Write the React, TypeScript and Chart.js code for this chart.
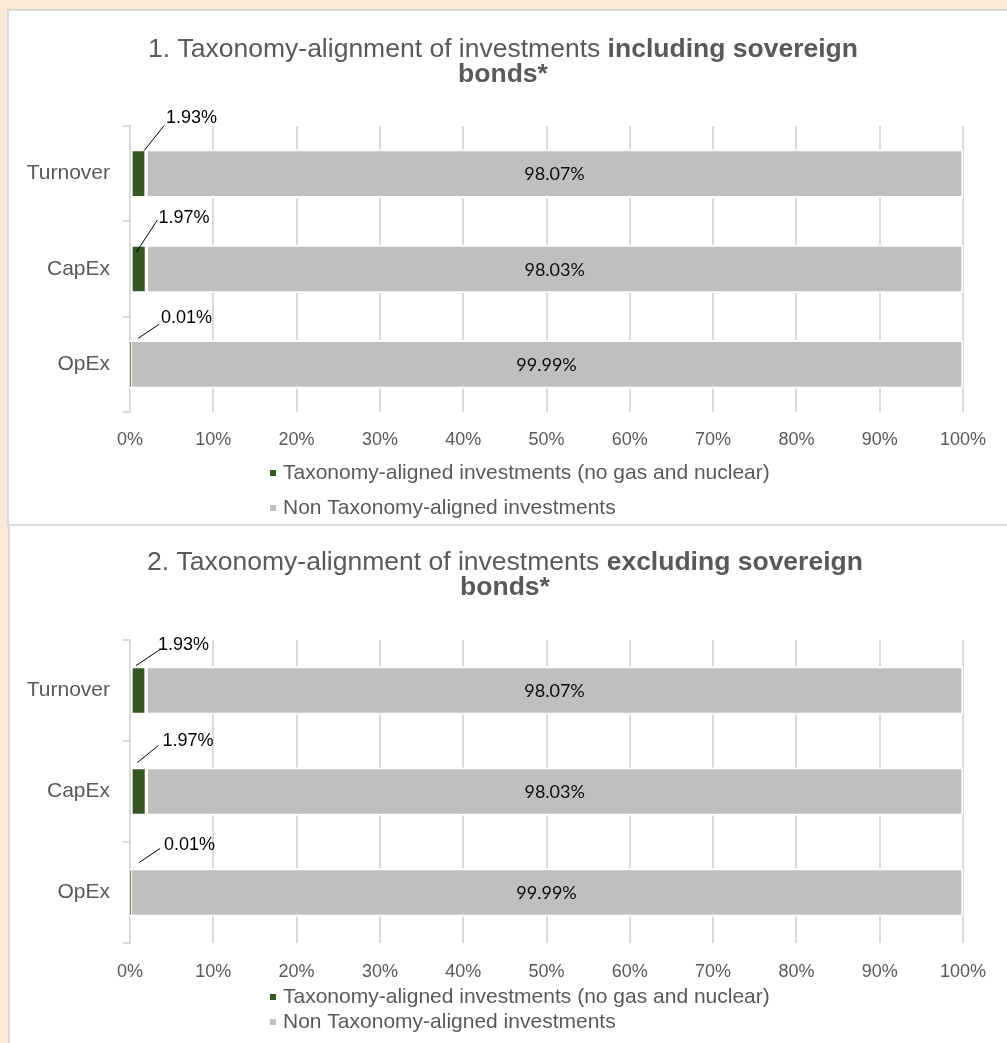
import React, { useEffect, useRef } from "react";
import { Chart, registerables } from "chart.js";

Chart.register(...registerables);

// ---------- data ----------
const categories = ["Turnover", "CapEx", "OpEx"];
const seriesNames = [
  "Taxonomy-aligned investments (no gas and nuclear)",
  "Non Taxonomy-aligned investments",
];
const alignedIncl = [1.93, 1.97, 0.01];
const nonAlignedIncl = [98.07, 98.03, 99.99];
const alignedExcl = [1.93, 1.97, 0.01];
const nonAlignedExcl = [98.07, 98.03, 99.99];
const axisMin = 0;
const axisMax = 100;
const axisStep = 10;
const title1Line1 = [
  { text: "1. Taxonomy-alignment of investments ", bold: false },
  { text: "including sovereign", bold: true },
];
const title2Line1 = [
  { text: "2. Taxonomy-alignment of investments ", bold: false },
  { text: "excluding sovereign", bold: true },
];
const titleLine2 = [{ text: "bonds*", bold: true }];

// ---------- styles ----------
const GREEN = "#375623";
const GREY = "#BFBFBF";
const TEXT = "#595959";
const GRID = "#D9D9D9";
const SANS = "'Liberation Sans', Arial, sans-serif";
const LABEL_FONT = "Lato, 'Open Sans', sans-serif";

// callout offsets (label placement relative to the end/top of the small bar)
const callouts1 = [
  { lx0: -2, ly0: -1, lx1: 18, ly1: -26, tx: 20, ty: -34 },
  { lx0: -10, ly0: 5, lx1: 11, ly1: -27, tx: 12, ty: -29 },
  { lx0: 8, ly0: -4, lx1: 29, ly1: -18, tx: 31, ty: -24 },
];
const callouts2 = [
  { lx0: -10, ly0: -3, lx1: 14, ly1: -19, tx: 12, ty: -23 },
  { lx0: -9, ly0: -7, lx1: 12, ly1: -24, tx: 16, ty: -28 },
  { lx0: 9, ly0: -8, lx1: 30, ly1: -22, tx: 34, ty: -25 },
];

type Seg = { text: string; bold: boolean };
type Cfg = {
  left: number;
  top: number;
  w: number;
  h: number;
  padTop: number;
  padBottom: number;
  padRight: number;
  yWidth: number;
  xTickPad: number;
  titleLines: Seg[][];
  titleBaselines: number[];
  titleCenter: number;
  legendRows: number[];
  legendX: number;
  callouts: typeof callouts1;
  aligned: number[];
  nonAligned: number[];
};

const fmt = (v: number) => v.toFixed(2) + "%";

const overlay = {
  id: "overlay",
  afterDatasetsDraw(chart: any) {
    const cfg: Cfg = chart.options.plugins.overlay.cfg;
    const ctx = chart.ctx as CanvasRenderingContext2D;
    ctx.save();
    // labels in the large bars
    const metaB = chart.getDatasetMeta(1);
    ctx.font = `18px ${LABEL_FONT}`;
    ctx.fillStyle = "#0d0d0d";
    ctx.textAlign = "center";
    ctx.textBaseline = "middle";
    metaB.data.forEach((el: any, i: number) => {
      const p = el.getProps(["x", "base", "y"], true);
      ctx.fillText(fmt(chart.data.datasets[1].data[i]), (p.x + p.base) / 2, p.y + 1);
    });
    // callouts for the small bars
    const metaA = chart.getDatasetMeta(0);
    ctx.font = `18px ${SANS}`;
    ctx.fillStyle = "#000";
    ctx.strokeStyle = "#000";
    ctx.lineWidth = 1;
    ctx.textAlign = "left";
    metaA.data.forEach((el: any, i: number) => {
      const p = el.getProps(["x", "y", "height"], true);
      const top = p.y - p.height / 2 + 2;
      const o = cfg.callouts[i];
      ctx.beginPath();
      ctx.moveTo(p.x + o.lx0, top + o.ly0);
      ctx.lineTo(p.x + o.lx1, top + o.ly1);
      ctx.stroke();
      ctx.fillText(fmt(chart.data.datasets[0].data[i]), p.x + o.tx, top + o.ty);
    });
    ctx.restore();
  },
  afterDraw(chart: any) {
    const cfg: Cfg = chart.options.plugins.overlay.cfg;
    const ctx = chart.ctx as CanvasRenderingContext2D;
    ctx.save();
    // title
    ctx.fillStyle = TEXT;
    ctx.textBaseline = "alphabetic";
    ctx.textAlign = "left";
    cfg.titleLines.forEach((line, li) => {
      const fonts = line.map((s) => `${s.bold ? "bold " : ""}26.5px ${SANS}`);
      let total = 0;
      const widths = line.map((s, k) => {
        ctx.font = fonts[k];
        const w = ctx.measureText(s.text).width;
        total += w;
        return w;
      });
      let x = cfg.titleCenter - total / 2;
      line.forEach((s, k) => {
        ctx.font = fonts[k];
        ctx.fillText(s.text, x, cfg.titleBaselines[li]);
        x += widths[k];
      });
    });
    // legend
    ctx.font = `21px ${SANS}`;
    ctx.textBaseline = "middle";
    chart.data.datasets.forEach((ds: any, i: number) => {
      const y = cfg.legendRows[i];
      ctx.fillStyle = ds.backgroundColor;
      ctx.fillRect(cfg.legendX, y - 3, 6, 6);
      ctx.fillStyle = TEXT;
      ctx.fillText(ds.label, cfg.legendX + 13, y);
    });
    ctx.restore();
  },
};

function ChartPanel({ cfg }: { cfg: Cfg }) {
  const ref = useRef<HTMLCanvasElement>(null);
  useEffect(() => {
    const chart = new Chart(ref.current as HTMLCanvasElement, {
      type: "bar",
      data: {
        labels: categories,
        datasets: [
          {
            label: seriesNames[0],
            data: cfg.aligned,
            backgroundColor: GREEN,
            borderColor: "#FFFFFF",
            borderWidth: 2,
            borderSkipped: false,
            barThickness: 48,
          },
          {
            label: seriesNames[1],
            data: cfg.nonAligned,
            backgroundColor: GREY,
            borderColor: "#FFFFFF",
            borderWidth: 2,
            borderSkipped: false,
            barThickness: 48,
          },
        ],
      },
      options: {
        responsive: false,
        animation: false,
        devicePixelRatio: 1,
        indexAxis: "y",
        layout: {
          padding: { top: cfg.padTop, bottom: cfg.padBottom, left: 0, right: cfg.padRight },
        },
        plugins: {
          legend: { display: false },
          title: { display: false },
          tooltip: { enabled: false },
          overlay: { cfg },
        } as any,
        scales: {
          x: {
            type: "linear",
            stacked: true,
            min: axisMin,
            max: axisMax,
            ticks: {
              stepSize: axisStep,
              callback: (v: any) => v + "%",
              color: TEXT,
              font: { size: 18, family: SANS },
              padding: cfg.xTickPad,
              maxRotation: 0,
              autoSkip: false,
            },
            grid: { color: GRID, lineWidth: 2, drawTicks: false },
            border: { display: false },
            afterFit: (s: any) => {
              s.height = 40;
            },
          },
          y: {
            type: "category",
            stacked: true,
            ticks: { color: TEXT, font: { size: 21, family: SANS }, padding: 13 },
            grid: {
              drawOnChartArea: false,
              drawTicks: true,
              tickLength: 7,
              color: GRID,
              lineWidth: 2,
              offset: true,
            },
            border: { display: true, color: GRID, width: 2 },
            afterFit: (s: any) => {
              s.width = cfg.yWidth;
            },
          },
        },
      } as any,
      plugins: [overlay as any],
    });
    return () => chart.destroy();
  }, []);
  return (
    <canvas
      ref={ref}
      width={cfg.w}
      height={cfg.h}
      style={{ position: "absolute", left: cfg.left, top: cfg.top, width: cfg.w, height: cfg.h }}
    />
  );
}

const cfg1: Cfg = {
  left: 9,
  top: 11,
  w: 998,
  h: 513,
  padTop: 115,
  padBottom: 72,
  padRight: 44,
  yWidth: 121,
  xTickPad: 17,
  titleLines: [title1Line1, titleLine2],
  titleBaselines: [46, 71],
  titleCenter: 494,
  legendRows: [462, 497],
  legendX: 261,
  callouts: callouts1,
  aligned: alignedIncl,
  nonAligned: nonAlignedIncl,
};

const cfg2: Cfg = {
  left: 10,
  top: 526,
  w: 997,
  h: 517,
  padTop: 114,
  padBottom: 60,
  padRight: 44,
  yWidth: 120,
  xTickPad: 18,
  titleLines: [title2Line1, titleLine2],
  titleBaselines: [44, 69],
  titleCenter: 495,
  legendRows: [471, 496],
  legendX: 260,
  callouts: callouts2,
  aligned: alignedExcl,
  nonAligned: nonAlignedExcl,
};

export default function App() {
  return (
    <div
      style={{
        position: "fixed",
        left: 0,
        top: 0,
        width: 1007,
        height: 1043,
        background: "#FBE9D8",
        overflow: "hidden",
      }}
    >
      <div
        style={{
          position: "absolute",
          left: 7,
          top: 9,
          width: 1100,
          height: 513,
          background: "#FFFFFF",
          borderTop: `2px solid ${GRID}`,
          borderLeft: `2px solid ${GRID}`,
          borderBottom: `2px solid ${GRID}`,
        }}
      />
      <div
        style={{
          position: "absolute",
          left: 8,
          top: 526,
          width: 1100,
          height: 600,
          background: "#FFFFFF",
          borderLeft: `2px solid ${GRID}`,
        }}
      />
      <ChartPanel cfg={cfg1} />
      <ChartPanel cfg={cfg2} />
    </div>
  );
}
